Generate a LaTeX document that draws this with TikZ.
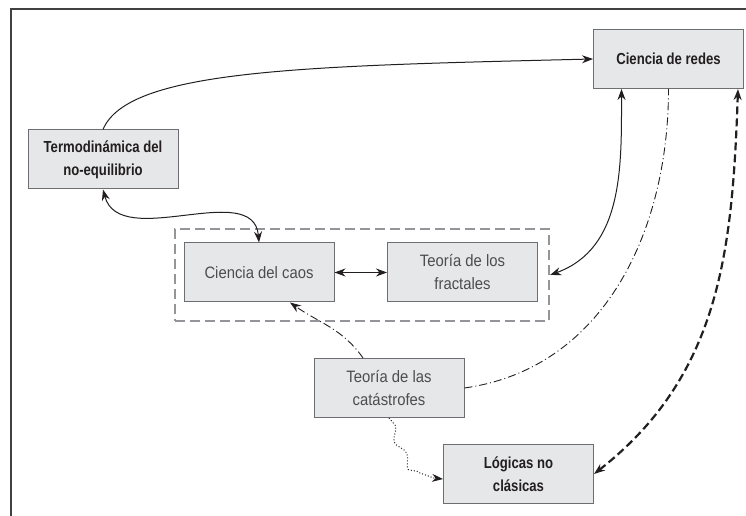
\documentclass[tikz,border=0pt]{standalone}
\usepackage{fontspec}
\usetikzlibrary{arrows.meta,decorations.pathmorphing}
\newfontfamily\condbold[FakeStretch=0.82]{Liberation Sans}
\newfontfamily\condreg[FakeStretch=0.9]{Liberation Sans}
\definecolor{boxfill}{HTML}{E6E7E8}
\definecolor{boxline}{HTML}{6D6E71}
\definecolor{greytext}{HTML}{4D4D4F}
\definecolor{darkline}{HTML}{231F20}
\definecolor{groupline}{HTML}{939598}
\definecolor{frameline}{HTML}{414042}

\begin{document}
\begin{tikzpicture}[x=1pt,y=1pt,>={Stealth[length=11pt,width=8pt]}]
\tikzstyle{box}=[draw=boxline, fill=boxfill, line width=1pt, minimum width=150pt, minimum height=59pt, align=center, inner sep=0pt]
\tikzstyle{keybox}=[box, font=\condbold\bfseries\fontsize{16}{23}\selectfont, text=darkline]
\tikzstyle{topicbox}=[box, font=\condreg\fontsize{16.5}{23}\selectfont, text=greytext]
\tikzstyle{groupbox}=[draw=groupline, line width=2.2pt, dash pattern=on 10pt off 5pt, minimum width=374pt, minimum height=92pt, inner sep=0pt]
\tikzstyle{solidlink}=[darkline, line width=1pt]
\tikzstyle{chainlink}=[darkline, line width=0.9pt, dash pattern=on 8pt off 3pt on 1pt off 3pt]
\tikzstyle{dotlink}=[darkline, line width=1pt, dotted, decorate, decoration={snake, amplitude=3.5pt, segment length=30pt, post length=9pt}]
\tikzstyle{heavylink}=[darkline, line width=2.2pt, dash pattern=on 8pt off 4pt]

\useasboundingbox (0,0) rectangle (746,516);
\draw[frameline, line width=1.3pt] (11,0) |- (746,507);

\node[groupbox] (grp) at (362, 241) {};

\node[keybox]   (redes) at (668.5, 457)   {Ciencia de redes};
\node[keybox]   (termo) at (103, 356.5)   {Termodinámica del\\no-equilibrio};
\node[topicbox] (caos)  at (259, 243.5)   {Ciencia del caos};
\node[topicbox] (fract) at (462.5, 243.5) {Teoría de los\\fractales};
\node[topicbox] (cat)   at (389, 128)     {Teoría de las\\catástrofes};
\node[keybox]   (log)   at (518.5, 42)    {Lógicas no\\clásicas};

\draw[solidlink, ->] (termo.north) .. controls +(25,60) and +(-290,-7) .. (redes.west);
\draw[solidlink, <->] (termo.south) to[out=-75, in=95] (caos.north);
\draw[solidlink, <->] (caos.east) -- (fract.west);
\draw[solidlink, <->] (grp.east) to[out=20, in=-90] ([xshift=-47pt]redes.south);
\draw[chainlink] (cat.east) to[out=8, in=-90] (redes.south);
\draw[chainlink, ->] ([xshift=-26pt]cat.north) to[out=125, in=-35] ([xshift=31pt]caos.south);
\draw[dotlink, ->] (cat.south) to[out=-70, in=180] ([yshift=-5pt]log.west);
\draw[heavylink, <->] (log.east) to[out=38, in=-92] ([xshift=-6pt]redes.south east);
\end{tikzpicture}
\end{document}
